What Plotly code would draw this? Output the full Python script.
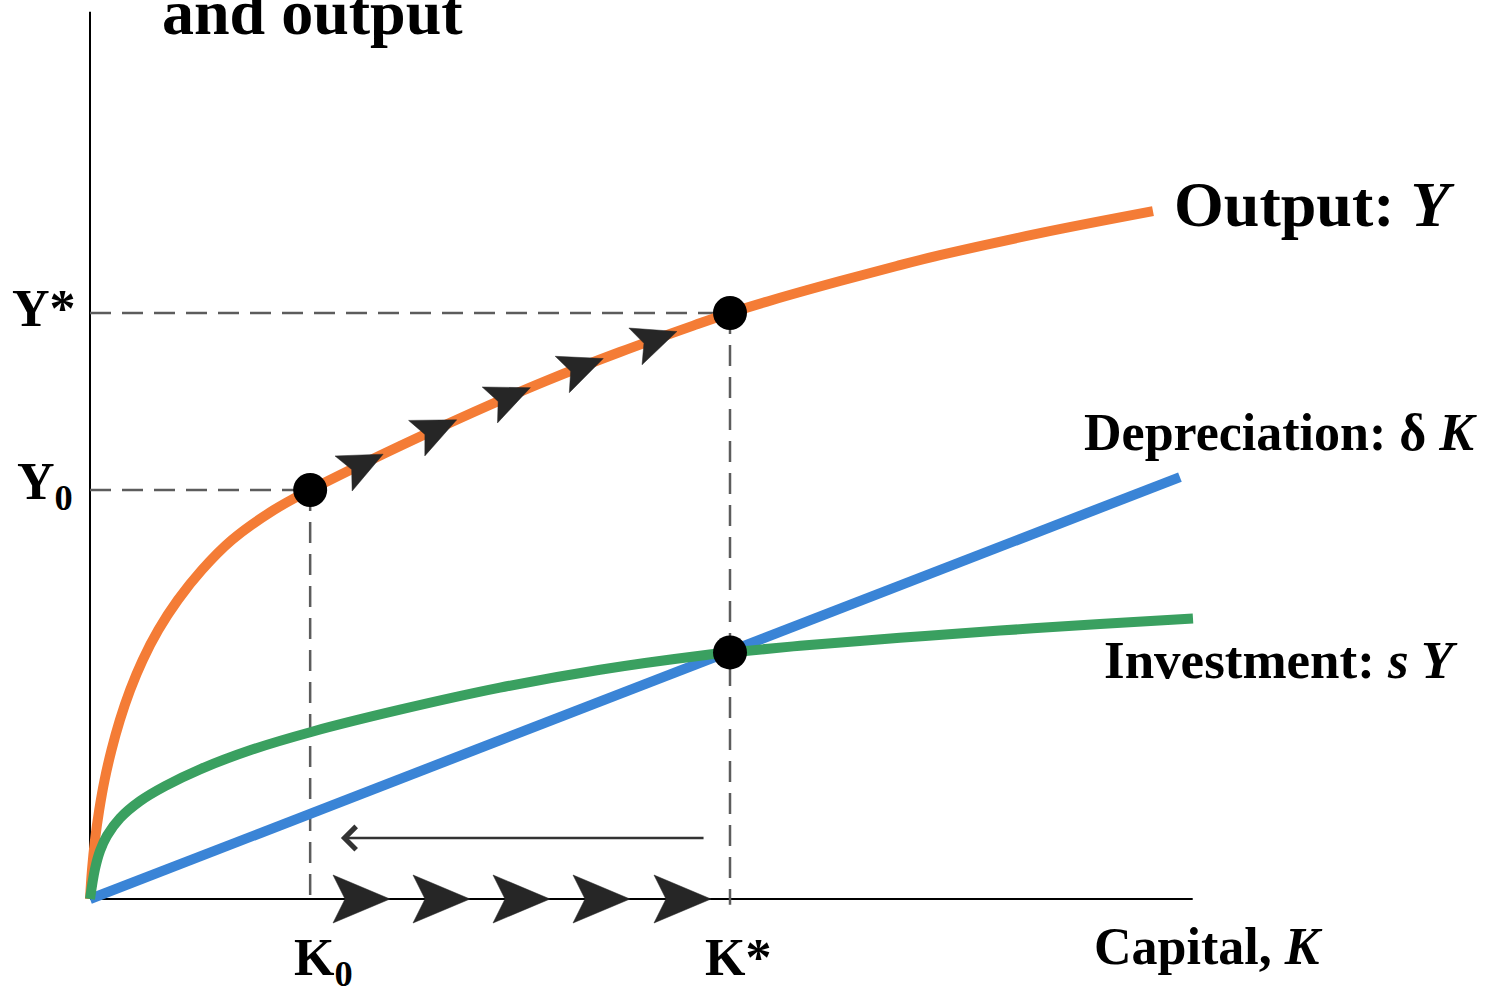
import numpy as np
import plotly.graph_objects as go

# ---------------- data ----------------
# units: capital K (K* = 10), output Y (Y* = 10)
capital_output = [0, 0.031, 0.078, 0.144, 0.228, 0.336, 0.467, 0.627, 0.823, 1.067,
                  1.372, 1.747, 2.216, 2.872, 3.44, 4.844, 5.989, 7.136, 8.281,
                  9.427, 10.0, 10.677, 11.719, 12.605, 13.281, 14.844, 16.609]
output_Y = [0, 0.495, 1.007, 1.519, 2.031, 2.543, 3.055, 3.567, 4.078, 4.590,
            5.102, 5.614, 6.126, 6.638, 6.98, 7.732, 8.307, 8.846, 9.334,
            9.785, 10.0, 10.227, 10.546, 10.802, 10.986, 11.362, 11.737]

capital_invest = [0, 0.078, 0.156, 0.266, 0.469, 0.781, 1.172, 1.719, 2.5, 3.469,
                  4.844, 6.406, 7.969, 9.531, 10.0, 11.094, 12.656, 14.219, 15.781, 17.234]
investment_sY = [0, 0.512, 0.819, 1.082, 1.381, 1.671, 1.927, 2.213, 2.538, 2.855,
                 3.230, 3.606, 3.913, 4.152, 4.208, 4.321, 4.457, 4.580, 4.693, 4.788]

capital_dep = [0, 17.03]
depreciation_dK = [0, 7.2]

K0, Y0 = 3.44, 6.98
K_star, Y_star, I_star = 10.0, 10.0, 4.208

curve_arrow_K = [4.58, 5.73, 6.88, 8.02, 9.17]
axis_arrow_K = [4.6875, 5.9375, 7.1875, 8.4375, 9.703]

axis_K_max, axis_Y_max = 17.23, 15.14
back_arrow_from, back_arrow_to, back_arrow_Y = 9.61, 3.92, 1.04

# ---------------- figure geometry ----------------
W_PX, H_PX = 1500, 994
x_range = [-1.40625, 22.03125]
y_range = [-1.6212, 15.3413]
sx = W_PX / (x_range[1] - x_range[0])   # px per K unit
sy = H_PX / (y_range[1] - y_range[0])   # px per Y unit

ORANGE = "#F47C36"
GREEN = "#3AA060"
BLUE = "#3A84D6"
DARK = "#262626"
DASH_C = "#5c5c5c"
FONT = "Liberation Serif"


def arrowheads(tipK, tipY, slopes, L, W, N):
    xs, ys = [], []
    for k, y, m in zip(tipK, tipY, slopes):
        vx, vy = sx * 1.0, sy * m
        nrm = np.hypot(vx, vy)
        vx, vy = vx / nrm, vy / nrm
        nx, ny = -vy, vx
        pts = [(0, 0),
               (-L * vx + W * nx, -L * vy + W * ny),
               (-(L - N) * vx, -(L - N) * vy),
               (-L * vx - W * nx, -L * vy - W * ny),
               (0, 0)]
        for px, py in pts:
            xs.append(k + px / sx)
            ys.append(y + py / sy)
        xs.append(None)
        ys.append(None)
    return xs, ys


fig = go.Figure()

# axes
fig.add_trace(go.Scatter(x=[0, 0], y=[0, axis_Y_max], mode="lines",
                         line=dict(color="black", width=2), hoverinfo="skip"))
fig.add_trace(go.Scatter(x=[0, axis_K_max], y=[0, 0], mode="lines",
                         line=dict(color="black", width=2), hoverinfo="skip"))

# dashed guides
dash_style = dict(color=DASH_C, width=2.5, dash="21px,11px")
for xs_, ys_ in [([0, K_star], [Y_star, Y_star]),
                 ([0, K0], [Y0, Y0]),
                 ([K0, K0], [Y0, -0.1]),
                 ([K_star, K_star], [Y_star, -0.1])]:
    fig.add_trace(go.Scatter(x=xs_, y=ys_, mode="lines", line=dash_style,
                             hoverinfo="skip"))

# curves
fig.add_trace(go.Scatter(x=capital_output, y=output_Y, mode="lines",
                         line=dict(color=ORANGE, width=10, shape="spline", smoothing=1.0),
                         name="Output"))
fig.add_trace(go.Scatter(x=capital_dep, y=depreciation_dK, mode="lines",
                         line=dict(color=BLUE, width=10), name="Depreciation"))
fig.add_trace(go.Scatter(x=capital_invest, y=investment_sY, mode="lines",
                         line=dict(color=GREEN, width=10, shape="spline", smoothing=1.0),
                         name="Investment"))

# arrowheads along the output curve
arrow_Y = np.interp(curve_arrow_K, capital_output, output_Y)
slopes = [(np.interp(k + 0.3, capital_output, output_Y) -
           np.interp(k - 0.3, capital_output, output_Y)) / 0.6 for k in curve_arrow_K]
ax_, ay_ = arrowheads(curve_arrow_K, arrow_Y, slopes, L=44, W=19.5, N=9)
fig.add_trace(go.Scatter(x=ax_, y=ay_, mode="lines", fill="toself", fillcolor=DARK,
                         line=dict(color=DARK, width=0.5), hoverinfo="skip"))

# arrowheads along the capital axis
bx_, by_ = arrowheads(axis_arrow_K, [0] * len(axis_arrow_K), [0] * len(axis_arrow_K),
                      L=57, W=24, N=12)
fig.add_trace(go.Scatter(x=bx_, y=by_, mode="lines", fill="toself", fillcolor=DARK,
                         line=dict(color=DARK, width=0.5), hoverinfo="skip"))

# equilibrium dots
fig.add_trace(go.Scatter(x=[K0, K_star, K_star], y=[Y0, Y_star, I_star], mode="markers",
                         marker=dict(color="black", size=34), hoverinfo="skip"))

# thin left arrow
fig.add_annotation(x=back_arrow_to, y=back_arrow_Y, ax=back_arrow_from, ay=back_arrow_Y,
                   xref="x", yref="y", axref="x", ayref="y", text="",
                   showarrow=True, arrowhead=4, arrowsize=1.8, arrowwidth=2.5,
                   arrowcolor="#333333")

# labels
def label(text, x, y, size, xanchor="left", yanchor="middle"):
    fig.add_annotation(x=x, y=y, xref="x", yref="y", text=text, showarrow=False,
                       xanchor=xanchor, yanchor=yanchor,
                       font=dict(family=FONT, size=size, color="black"))

label("<b>and output</b>", 1.094, 15.12, 64)
label("<b>Output: <i>Y</i></b>", 16.906, 11.85, 64)
label("<b>Depreciation: δ <i>K</i></b>", 15.5, 7.96, 52)
label("<b>Investment: <i>s Y</i></b>", 15.8125, 4.08, 53)
label("<b>Capital, <i>K</i></b>", 15.656, -0.81, 52)
label("<b>Y*</b>", -0.19, 10.07, 52, xanchor="right")
label("<b>Y<sub>0</sub></b>", -0.24, 7.06, 52, xanchor="right")
label("<b>K<sub>0</sub></b>", 3.156, -1.06, 52)
label("<b>K*</b>", 9.578, -0.99, 52)

fig.update_layout(
    width=W_PX, height=H_PX,
    margin=dict(l=0, r=0, t=0, b=0),
    paper_bgcolor="white", plot_bgcolor="white",
    showlegend=False, hovermode=False,
    xaxis=dict(range=x_range, visible=False, fixedrange=True),
    yaxis=dict(range=y_range, visible=False, fixedrange=True),
)

fig.write_html("out.html", config={"displayModeBar": False},
               post_script="document.body.style.margin='0px';document.body.style.overflow='hidden';")
